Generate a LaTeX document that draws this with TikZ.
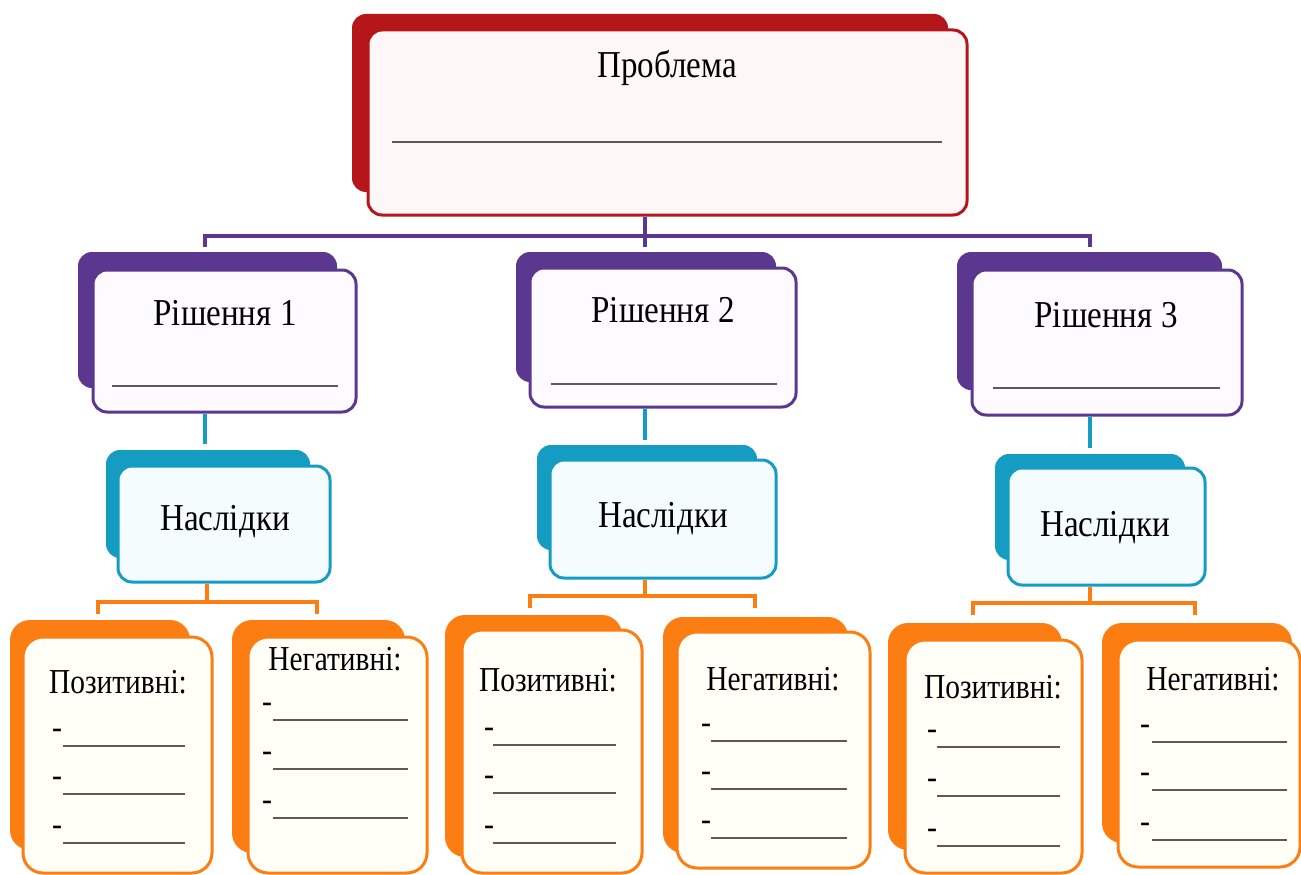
\documentclass[tikz,border=0pt]{standalone}
\usepackage{fontspec}
\usepackage{graphicx}
\setmainfont{Liberation Serif}
\definecolor{cred}{HTML}{B5161A}
\definecolor{cpurple}{HTML}{5B3790}
\definecolor{ccyan}{HTML}{159CC2}
\definecolor{corange}{HTML}{FC7E12}
\definecolor{fred}{HTML}{FDF7F8}
\definecolor{fpurple}{HTML}{FDFBFF}
\definecolor{fcyan}{HTML}{F5FCFE}
\definecolor{forange}{HTML}{FFFEF7}
\definecolor{uline}{HTML}{5A5A5A}
\tikzset{
  backbox/.style={fill=#1, draw=none, rectangle, rounded corners=14pt, inner sep=0pt},
  frontbox/.style={draw=#1, line width=3pt, rectangle, rounded corners=14pt, inner sep=0pt},
  obackbox/.style={backbox=corange, rounded corners=20pt},
  ofrontbox/.style={frontbox=corange, fill=forange, rounded corners=20pt},
  bigtxt/.style={font=\fontsize{38}{40}\selectfont, inner sep=0pt},
  smalltxt/.style={font=\fontsize{35}{38}\selectfont, inner sep=0pt},
  dashtxt/.style={font=\fontsize{30}{33}\selectfont\bfseries, inner sep=0pt},
  uln/.style={draw=uline, line width=2pt},
  pline/.style={draw=cpurple, line width=4pt},
  cline/.style={draw=ccyan, line width=3.5pt},
  oline/.style={draw=corange, line width=4pt},
}
\newcommand\bigt[1]{\scalebox{0.87}[1]{#1}}
\newcommand\smallt[1]{\scalebox{0.84}[1]{#1}}
\newcommand\dlist[6]{%
  \foreach \yy in {#4,#5,#6}{%
    \node[dashtxt] at (#1,\yy-13) {-};
    \draw[uln] (#2,\yy) -- (#3,\yy);
  }%
}
\begin{document}
\begin{tikzpicture}[x=1pt,y=-1pt]
\useasboundingbox (0,0) rectangle (1301,875);
\fill[white] (0,0) rectangle (1301,875);

% ---- connector coordinates
\coordinate (pj) at (645,236);
\coordinate (j1) at (205,236);
\coordinate (j3) at (1090,236);
\coordinate (d1) at (205,247);
\coordinate (d2) at (645,247);
\coordinate (d3) at (1090,247);
\coordinate (c1) at (205,444);
\coordinate (c2) at (645,440);
\coordinate (c3) at (1090,448);
\coordinate (o1) at (207,602);
\coordinate (o1l) at (98,602);
\coordinate (o1r) at (317,602);
\coordinate (o1le) at (98,614);
\coordinate (o1re) at (317,614);
\coordinate (o2) at (645,596);
\coordinate (o2l) at (530,596);
\coordinate (o2r) at (755,596);
\coordinate (o2le) at (530,608);
\coordinate (o2re) at (755,608);
\coordinate (o3) at (1090,603);
\coordinate (o3l) at (973,603);
\coordinate (o3r) at (1195,603);
\coordinate (o3le) at (973,615);
\coordinate (o3re) at (1195,615);

% ---- boxes
\node[backbox=cred, minimum width=596pt, minimum height=178pt] (pb) at (650,103) {};
\node[frontbox=cred, fill=fred, minimum width=599pt, minimum height=185pt] (p) at (667.5,122.5) {};

\node[backbox=cpurple, minimum width=259pt, minimum height=136pt] (rb1) at (207.5,320) {};
\node[frontbox=cpurple, fill=fpurple, minimum width=263pt, minimum height=142pt] (r1) at (224.5,341) {};
\node[backbox=cpurple, minimum width=260pt, minimum height=130pt] (rb2) at (646,317) {};
\node[frontbox=cpurple, fill=fpurple, minimum width=266pt, minimum height=139pt] (r2) at (663,337.5) {};
\node[backbox=cpurple, minimum width=265pt, minimum height=138pt] (rb3) at (1089.5,321) {};
\node[frontbox=cpurple, fill=fpurple, minimum width=270pt, minimum height=145pt] (r3) at (1107,342.5) {};

\node[backbox=ccyan, minimum width=204pt, minimum height=108pt] (nb1) at (208,504) {};
\node[frontbox=ccyan, fill=fcyan, minimum width=212pt, minimum height=116pt] (n1) at (224,524) {};
\node[backbox=ccyan, minimum width=220pt, minimum height=105pt] (nb2) at (647,497.5) {};
\node[frontbox=ccyan, fill=fcyan, minimum width=226pt, minimum height=118pt] (n2) at (663,519) {};
\node[backbox=ccyan, minimum width=190pt, minimum height=106pt] (nb3) at (1090,507) {};
\node[frontbox=ccyan, fill=fcyan, minimum width=197pt, minimum height=117pt] (n3) at (1106.5,526.5) {};

\node[obackbox, minimum width=180pt, minimum height=230pt] (pob1) at (100,735) {};
\node[ofrontbox, minimum width=189pt, minimum height=236pt] (po1) at (117.5,755) {};
\node[obackbox, minimum width=173pt, minimum height=233pt] (neb1) at (318.5,736.5) {};
\node[ofrontbox, minimum width=179pt, minimum height=236pt] (ne1) at (337.5,755) {};
\node[obackbox, minimum width=177pt, minimum height=242pt] (pob2) at (533.5,736) {};
\node[ofrontbox, minimum width=180pt, minimum height=243pt] (po2) at (552,751.5) {};
\node[obackbox, minimum width=185pt, minimum height=236pt] (neb2) at (755.5,735) {};
\node[ofrontbox, minimum width=193pt, minimum height=236pt] (ne2) at (773.5,750) {};
\node[obackbox, minimum width=174pt, minimum height=227pt] (pob3) at (975,736.5) {};
\node[ofrontbox, minimum width=177pt, minimum height=233pt] (po3) at (993.5,756.5) {};
\node[obackbox, minimum width=190pt, minimum height=220pt] (neb3) at (1197,733) {};
\node[ofrontbox, minimum width=182pt, minimum height=227pt] (ne3) at (1209,753.5) {};

% ---- connectors
\draw[pline] (pj |- p.south) -- (pj);
\draw[pline] (d1) -- (j1) -- (j3) -- (d3);
\draw[pline] (pj) -- (d2);
\draw[cline] (c1 |- r1.south) -- (c1);
\draw[cline] (c2 |- r2.south) -- (c2);
\draw[cline] (c3 |- r3.south) -- (c3);
\draw[oline] (o1 |- n1.south) -- (o1);
\draw[oline] (o1le) -- (o1l) -- (o1r) -- (o1re);
\draw[oline] (o2 |- n2.south) -- (o2);
\draw[oline] (o2le) -- (o2l) -- (o2r) -- (o2re);
\draw[oline] (o3 |- n3.south) -- (o3);
\draw[oline] (o3le) -- (o3l) -- (o3r) -- (o3re);

% ---- texts
\node[bigtxt] (tp) at (667,68) {\bigt{Проблема}};
\draw[uln] (392,142) -- (942,142);

\node[bigtxt] (tr1) at (225,313) {\bigt{Рішення 1}};
\draw[uln] (112,386) -- (338,386);
\node[bigtxt] (tr2) at (663,310) {\bigt{Рішення 2}};
\draw[uln] (551,384) -- (777,384);
\node[bigtxt] (tr3) at (1106,315) {\bigt{Рішення 3}};
\draw[uln] (993,388) -- (1220,388);

\node[bigtxt] (tn1) at (225,522) {\bigt{Наслідки}};
\node[bigtxt] (tn2) at (663,519) {\bigt{Наслідки}};
\node[bigtxt] (tn3) at (1105,528) {\bigt{Наслідки}};

\node[smalltxt] (tpo1) at (118,682) {\smallt{Позитивні:}};
\node[smalltxt] (tne1) at (335,659) {\smallt{Негативні:}};
\node[smalltxt] (tpo2) at (548,680) {\smallt{Позитивні:}};
\node[smalltxt] (tne2) at (773,679) {\smallt{Негативні:}};
\node[smalltxt] (tpo3) at (993,687) {\smallt{Позитивні:}};
\node[smalltxt] (tne3) at (1213,679) {\smallt{Негативні:}};

\dlist{57}{63}{185}{746}{794}{843}
\dlist{267}{273}{408}{720}{769}{818}
\dlist{489}{493}{616}{745}{793}{843}
\dlist{706}{711}{847}{741}{789}{838}
\dlist{932}{937}{1060}{747}{796}{846}
\dlist{1145}{1152}{1287}{742}{790}{840}
\end{tikzpicture}
\end{document}
